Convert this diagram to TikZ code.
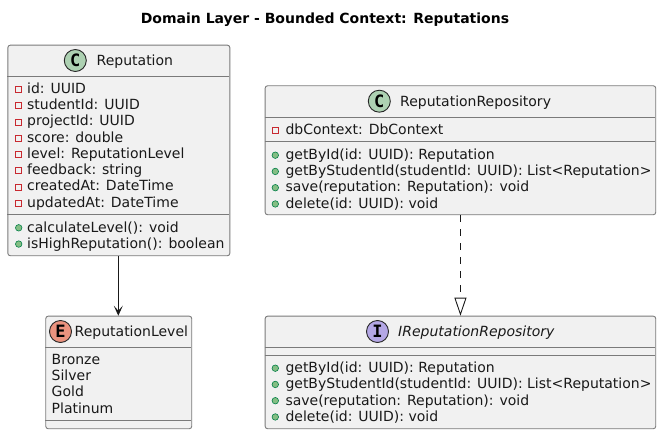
\documentclass[tikz,border=0pt]{standalone}
\usepackage{fontspec}
\setmainfont{DejaVu Sans}
\newfontfamily\iconfont{DejaVu Sans Mono}
\usetikzlibrary{arrows.meta,positioning}
\definecolor{boxfill}{HTML}{F1F1F1}
\definecolor{boxline}{HTML}{7A7A7A}
\definecolor{privred}{HTML}{C82930}
\definecolor{pubfill}{HTML}{84BE84}
\definecolor{publine}{HTML}{038048}
\definecolor{iconC}{HTML}{ADD1B2}
\definecolor{iconE}{HTML}{EB937F}
\definecolor{iconI}{HTML}{B4A7E5}
\tikzset{
    umlbox/.style={draw=boxline, fill=boxfill, line width=0.9pt, rounded corners=2.5pt, inner sep=0pt, anchor=north west},
    rowline/.style={draw=boxline, line width=0.9pt},
    rowtext/.style={anchor=base west, inner sep=0pt, font=\fontsize{14}{14}\selectfont, text=black!90},
    titletext/.style={anchor=base, inner sep=0pt, font=\fontsize{14}{14}\selectfont\bfseries},
    headtext/.style={rowtext},
    icon/.style={circle, draw=black!85, line width=0.9pt, minimum size=22pt, inner sep=0pt, font=\iconfont\fontsize{17}{17}\selectfont\bfseries},
    privmark/.style={draw=privred, line width=0.9pt, minimum size=6pt, inner sep=0pt},
    pubmark/.style={circle, draw=publine, fill=pubfill, line width=0.6pt, minimum size=6.5pt, inner sep=0pt},
    assoc/.style={-{Stealth[length=10pt,width=9pt,inset=5pt]}, line width=0.9pt, black!90},
    realize/.style={dashed, dash pattern=on 7pt off 7pt, line width=0.9pt, black!90, -{Triangle[open,length=18pt,width=12pt,fill=white]}},
}
\begin{document}
\begin{tikzpicture}[x=1pt,y=-1pt]
    \useasboundingbox (0,0) rectangle (661,434);
    \node [titletext] (title) at (325,23) {Domain Layer - Bounded Context: Reputations};

    % Reputation
    \node [umlbox, minimum width=222pt, minimum height=210.6pt] (reputation) at (7.4,44.7) {};
    \draw [rowline] (7.4,76.4) -- (229.4,76.4);
    \draw [rowline] (7.4,214) -- (229.4,214);
    \node [icon, fill=iconC] (reputationicon) at (75.3,60.5) {C};
    \node [headtext] (reputationname) at (96.5,65.4) {Reputation};
    \foreach \rowtext [count=\i from 0] in {id: UUID, studentId: UUID, projectId: UUID, score: double, level: ReputationLevel, feedback: string, createdAt: DateTime, updatedAt: DateTime} {
        \node [privmark] (repmark\i) at (18.7,89.5+16.25*\i) {};
        \node [rowtext] (reprow\i) at (27,93.4+16.25*\i) {\rowtext};
    }
    \foreach \rowtext [count=\i from 0] in {calculateLevel(): void, isHighReputation(): boolean} {
        \node [pubmark] (repmeth\i) at (18.7,227.8+16.25*\i) {};
        \node [rowtext] (repmethrow\i) at (27,232.3+16.25*\i) {\rowtext};
    }

    % ReputationLevel
    \node [umlbox, minimum width=146pt, minimum height=112.6pt] (level) at (45.3,315.7) {};
    \draw [rowline] (45.3,347.7) -- (191.3,347.7);
    \draw [rowline] (45.3,420.3) -- (191.3,420.3);
    \node [icon, fill=iconE] (levelicon) at (60.5,331.5) {E};
    \node [headtext] (levelname) at (74.5,336.4) {ReputationLevel};
    \foreach \rowtext [count=\i from 0] in {Bronze, Silver, Gold, Platinum} {
        \node [rowtext] (levelrow\i) at (51.5,364.4+16.25*\i) {\rowtext};
    }

    % ReputationRepository
    \node [umlbox, minimum width=390.6pt, minimum height=129pt] (repository) at (264.7,85.3) {};
    \draw [rowline] (264.7,117.3) -- (655.3,117.3);
    \draw [rowline] (264.7,141.3) -- (655.3,141.3);
    \node [icon, fill=iconC] (repositoryicon) at (379.3,101.2) {C};
    \node [headtext] (repositoryname) at (400,106) {ReputationRepository};
    \node [privmark] (repomark) at (275.3,130.3) {};
    \node [rowtext] (reporow) at (285.3,134.2) {dbContext: DbContext};
    \foreach \rowtext [count=\i from 0] in {getById(id: UUID): Reputation, getByStudentId(studentId: UUID): List<Reputation>, save(reputation: Reputation): void, delete(id: UUID): void} {
        \node [pubmark] (repometh\i) at (275.3,155.2+16.25*\i) {};
        \node [rowtext] (repomethrow\i) at (285.3,159.3+16.25*\i) {\rowtext};
    }

    % IReputationRepository
    \node [umlbox, minimum width=390.6pt, minimum height=112.6pt] (irepository) at (264.7,315.7) {};
    \draw [rowline] (264.7,347.3) -- (655.3,347.3);
    \draw [rowline] (264.7,355.3) -- (655.3,355.3);
    \node [icon, fill=iconI] (irepositoryicon) at (377.5,331.5) {I};
    \node [headtext, font=\fontsize{14}{14}\selectfont\itshape] (irepositoryname) at (398,336.4) {IReputationRepository};
    \foreach \rowtext [count=\i from 0] in {getById(id: UUID): Reputation, getByStudentId(studentId: UUID): List<Reputation>, save(reputation: Reputation): void, delete(id: UUID): void} {
        \node [pubmark] (irepometh\i) at (275.3,368.2+16.25*\i) {};
        \node [rowtext] (irepomethrow\i) at (285.3,372.7+16.25*\i) {\rowtext};
    }

    % connectors
    \draw [assoc] (reputation.south -| 118.3,0) -- (level.north -| 118.3,0);
    \draw [realize] (repository.south) -- (irepository.north);
\end{tikzpicture}
\end{document}
